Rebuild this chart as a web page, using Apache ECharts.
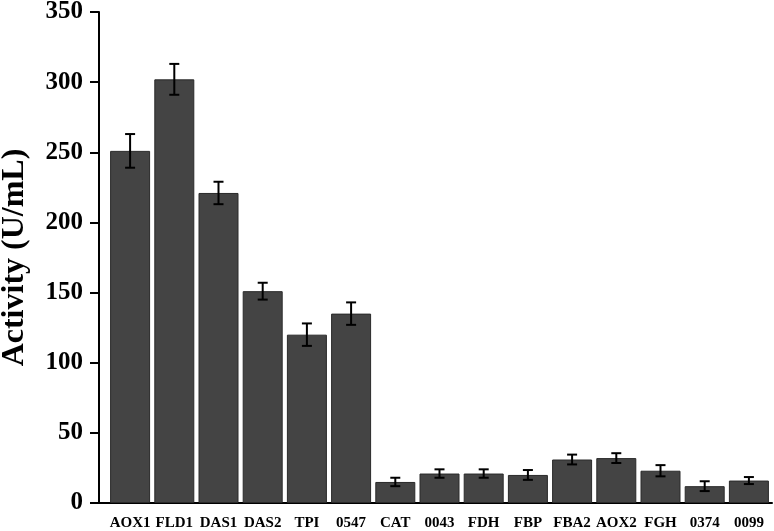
<!DOCTYPE html>
<html>
<head>
<meta charset="utf-8">
<script src="https://cdn.jsdelivr.net/npm/echarts@6/dist/echarts.min.js"></script>
<style>html,body{margin:0;padding:0;background:#fff}#c{width:774px;height:531px}</style>
</head>
<body>
<div id="c"></div>
<script>
const categories = ['AOX1','FLD1','DAS1','DAS2','TPI','0547','CAT','0043','FDH','FBP','FBA2','AOX2','FGH','0374','0099'];
const activity = [251, 302, 221, 151, 120, 135, 15, 21, 21, 20, 31, 32, 23, 12, 16];
const errors = [12, 11, 8, 6, 8, 8, 3, 3, 3, 3.5, 3.5, 3.5, 4, 3.5, 2.5];
const yTicks = [0, 50, 100, 150, 200, 250, 300, 350];

const font = 'Liberation Serif';
const errData = activity.map((v, i) => [i, v - errors[i], v + errors[i]]);

const chart = echarts.init(document.getElementById('c'));
chart.setOption({
  animation: false,
  grid: [
    {left: 108, right: 3, top: 12, bottom: 28, outerBoundsMode: 'none', containLabel: false},
    {left: 99, right: 2, top: 12, bottom: 28, outerBoundsMode: 'none', containLabel: false}
  ],
  xAxis: [
    {type: 'category', gridIndex: 0, data: categories,
     axisLine: {show: false}, axisTick: {show: false},
     axisLabel: {fontFamily: font, fontWeight: 'bold', fontSize: 15, color: '#000', margin: 13, interval: 0}},
    {type: 'value', gridIndex: 1, min: 0, max: 1,
     axisLine: {show: true, lineStyle: {color: '#000', width: 2}},
     axisTick: {show: false}, axisLabel: {show: false}, splitLine: {show: false}}
  ],
  yAxis: [
    {type: 'value', gridIndex: 0, min: 0, max: 350, interval: 50, show: false},
    {type: 'value', gridIndex: 1, min: yTicks[0], max: yTicks[yTicks.length - 1], interval: 50,
     name: 'Activity (U/mL)', nameLocation: 'middle', nameGap: 68,
     nameTextStyle: {fontFamily: font, fontWeight: 'bold', fontSize: 32, color: '#000'},
     axisLine: {show: true, lineStyle: {color: '#000', width: 2}},
     axisTick: {show: true, length: 9, lineStyle: {color: '#000', width: 2}},
     axisLabel: {fontFamily: font, fontWeight: 'bold', fontSize: 25, color: '#000', margin: 16,
                 formatter: function (v) { return yTicks.indexOf(v) >= 0 ? String(v) : ''; }},
     splitLine: {show: false}}
  ],
  series: [
    {type: 'bar', xAxisIndex: 0, yAxisIndex: 0, data: activity, barWidth: 40,
     itemStyle: {color: '#444444', borderColor: '#2a2a2a', borderWidth: 1}},
    {type: 'custom', xAxisIndex: 0, yAxisIndex: 0, data: errData, z: 10,
     renderItem: function (params, api) {
       const x = api.value(0);
       const lo = api.coord([x, api.value(1)]);
       const hi = api.coord([x, api.value(2)]);
       const hw = 5;
       const st = {stroke: '#000', lineWidth: 2};
       return {type: 'group', children: [
         {type: 'line', shape: {x1: lo[0], y1: lo[1], x2: hi[0], y2: hi[1]}, style: st},
         {type: 'line', shape: {x1: lo[0] - hw, y1: lo[1], x2: lo[0] + hw, y2: lo[1]}, style: st},
         {type: 'line', shape: {x1: hi[0] - hw, y1: hi[1], x2: hi[0] + hw, y2: hi[1]}, style: st}
       ]};
     }}
  ]
});
</script>
</body>
</html>
